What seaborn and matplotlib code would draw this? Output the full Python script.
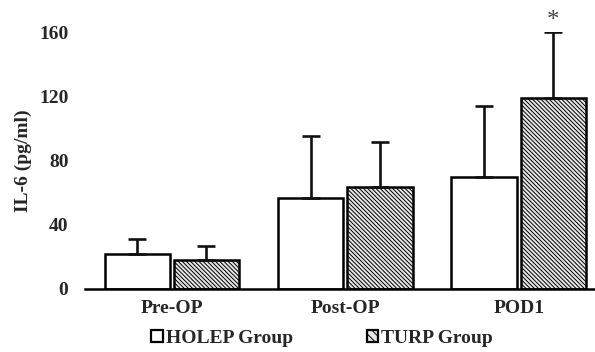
import matplotlib
matplotlib.use("Agg")
import matplotlib.pyplot as plt
import seaborn as sns
import pandas as pd
from matplotlib.patches import Patch

# ---- data ----
timepoints = ["Pre-OP", "Post-OP", "POD1"]
groups = ["HOLEP Group", "TURP Group"]
holep_mean = [22, 56.5, 69.5]
holep_sd = [9, 38.5, 44.5]
turp_mean = [18, 63.5, 119]
turp_sd = [9, 28, 41]
yticks = [0, 40, 80, 120, 160]

df = pd.DataFrame({
    "time": timepoints * 2,
    "group": [groups[0]] * 3 + [groups[1]] * 3,
    "value": holep_mean + turp_mean,
})
sds = {groups[0]: holep_sd, groups[1]: turp_sd}

sns.set_style("white")
plt.rcParams["font.family"] = ["Liberation Serif", "DejaVu Serif"]
plt.rcParams["font.weight"] = "bold"
plt.rcParams["hatch.color"] = "#6a6a6a"
plt.rcParams["hatch.linewidth"] = 0.7

fig = plt.figure(figsize=(5.95, 3.52), dpi=100)
ax = fig.add_axes([0.143, 0.179, 0.857, 0.730])

sns.barplot(data=df, x="time", y="value", hue="group", order=timepoints,
            hue_order=groups, palette=["white", "#e6e6e6"], width=0.8, gap=0.06,
            errorbar=None, edgecolor="black", linewidth=1.8, ax=ax, legend=False)

for cont, g in zip(ax.containers, groups):
    xs, tops = [], []
    for p in cont.patches:
        xs.append(p.get_x() + p.get_width() / 2)
        tops.append(p.get_height())
        if g == "TURP Group":
            p.set_hatch("\\\\\\\\\\\\\\\\")
    ax.errorbar(xs, tops, yerr=[[0] * len(xs), sds[g]], fmt="none", ecolor="#111111",
                elinewidth=1.9, capsize=6.5, capthick=1.9, zorder=1)

# asterisk above POD1 TURP
bar = ax.containers[1].patches[2]
ax.annotate("*", xy=(bar.get_x() + bar.get_width() / 2, turp_mean[2] + turp_sd[2]),
            xytext=(0, 0), textcoords="offset points", ha="center", va="bottom",
            fontsize=18, fontweight="normal", color="#444444", annotation_clip=False)

ax.set_ylim(0, 160)
ax.set_xlim(-0.5, 2.44)
ax.set_yticks(yticks)
ax.set_yticklabels([str(t) for t in yticks])
ax.set_xlabel("")
ax.set_ylabel("IL-6 (pg/ml)", fontsize=14, fontweight="bold", labelpad=5)
ax.tick_params(axis="both", length=0, labelsize=14)
ax.tick_params(axis="x", pad=8)
ax.tick_params(axis="y", pad=12)
for s in ["top", "right", "left"]:
    ax.spines[s].set_visible(False)
ax.spines["bottom"].set_linewidth(1.8)
ax.spines["bottom"].set_color("black")

handles = [Patch(facecolor="white", edgecolor="black", linewidth=1.6),
           Patch(facecolor="#e6e6e6", edgecolor="black", linewidth=1.6, hatch="\\\\\\\\")]
fig.legend(handles, groups, loc="lower center", bbox_to_anchor=(0.541, -0.035), ncol=2,
           frameon=False, handlelength=0.6, handleheight=0.6, handletextpad=0.15,
           columnspacing=3.8, prop={"size": 14, "weight": "bold"})

fig.savefig("out.png", dpi=100)
